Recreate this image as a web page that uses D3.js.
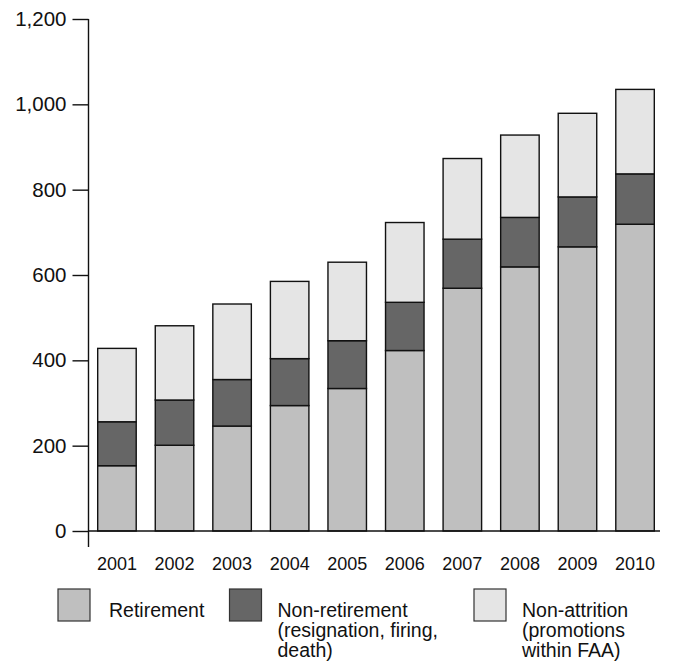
<!DOCTYPE html>
<html>
<head>
<meta charset="utf-8">
<script src="https://cdn.jsdelivr.net/npm/d3@7"></script>
<style>
  body { margin: 0; background: #fff; }
  svg { display: block; }
  svg text { font-family: "Liberation Sans", Arial, sans-serif; }
</style>
</head>
<body>
<svg id="svg" width="673" height="667"></svg>
<script>
var years = ["2001", "2002", "2003", "2004", "2005", "2006", "2007", "2008", "2009", "2010"];
var retirement = [153, 201, 246, 294, 334, 423, 569, 619, 666, 719];
var nonRetirement = [103, 106, 109, 110, 112, 113, 115, 116, 117, 118];
var nonAttrition = [172, 174, 177, 181, 184, 187, 189, 193, 196, 198];
var yTicks = [0, 200, 400, 600, 800, 1000, 1200];

var seriesKeys = ["retirement", "nonRetirement", "nonAttrition"];
var seriesColors = ["#bfbfbf", "#666666", "#e5e5e5"];
var legendLines = [
    ["Retirement"],
    ["Non-retirement", "(resignation, firing,", "death)"],
    ["Non-attrition", "(promotions", "within FAA)"]
];

var rows = years.map(function (y, i) {
    return {year: y, retirement: retirement[i], nonRetirement: nonRetirement[i], nonAttrition: nonAttrition[i]};
});

var svg = d3.select("svg");

var x = d3.scaleBand()
    .domain(years)
    .range([88.2, 663.8])
    .paddingInner(0.331)
    .paddingOuter(0.165);

var y = d3.scaleLinear()
    .domain([0, 1200])
    .range([531, 19]);

var stacked = d3.stack().keys(seriesKeys)(rows);

// bars
svg.append("g")
    .selectAll("g")
    .data(stacked)
    .enter().append("g")
    .attr("fill", function (d, i) { return seriesColors[i]; })
    .selectAll("rect")
    .data(function (d) { return d; })
    .enter().append("rect")
    .attr("x", function (d) { return x(d.data.year); })
    .attr("y", function (d) { return y(d[1]); })
    .attr("width", x.bandwidth())
    .attr("height", function (d) { return y(d[0]) - y(d[1]); })
    .attr("stroke", "#111")
    .attr("stroke-width", 1.4);

// y axis
var yAxis = svg.append("g")
    .attr("transform", "translate(88.5,0)")
    .call(d3.axisLeft(y).tickValues(yTicks).tickSize(16).tickPadding(6)
        .tickFormat(d3.format(",")));
yAxis.attr("font-family", null);
yAxis.select(".domain").remove();
yAxis.selectAll("line").attr("stroke", "#111").attr("stroke-width", 1.4);
yAxis.selectAll("text").attr("font-size", "20.5px").attr("fill", "#111");

svg.append("line")
    .attr("x1", 88.5).attr("x2", 88.5)
    .attr("y1", y(1200)).attr("y2", 547)
    .attr("stroke", "#111").attr("stroke-width", 1.4);

// baseline
svg.append("line")
    .attr("x1", 88.5).attr("x2", 660)
    .attr("y1", y(0)).attr("y2", y(0))
    .attr("stroke", "#111").attr("stroke-width", 1.4);

// x labels
var xAxis = svg.append("g")
    .attr("transform", "translate(0,531)")
    .call(d3.axisBottom(x).tickSize(0).tickPadding(26));
xAxis.attr("font-family", null);
xAxis.select(".domain").remove();
xAxis.selectAll("text").attr("font-size", "18px").attr("fill", "#111");

// legend
var legendX = [58, 229.5, 474];
var legend = svg.append("g");
seriesKeys.forEach(function (k, i) {
    var g = legend.append("g").attr("transform", "translate(" + legendX[i] + ",589)");
    g.append("rect")
        .attr("width", 32).attr("height", 32)
        .attr("fill", seriesColors[i])
        .attr("stroke", "#333").attr("stroke-width", 1.2);
    var t = g.append("text")
        .attr("x", i === 0 ? 51 : 48)
        .attr("y", 28)
        .attr("font-size", "19.5px")
        .attr("fill", "#111");
    legendLines[i].forEach(function (line, j) {
        t.append("tspan")
            .attr("x", i === 0 ? 51 : 48)
            .attr("dy", j === 0 ? 0 : 20)
            .text(line);
    });
});
</script>
</body>
</html>
